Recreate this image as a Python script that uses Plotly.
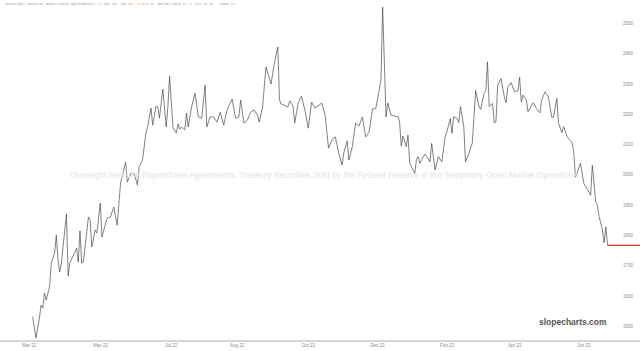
import plotly.graph_objects as go

# trading-session index (0 = first bar shown) and ON RRP values (USD bn)
sessions = [0,2,4,5,6,7,8,10,11,13,14,15,16,17,20,21,22,24,26,27,28,29,30,33,34,35,36,37,38,40,
            41,42,44,46,48,50,52,55,56,58,60,62,63,65,67,68,70,71,73,74,75,77,79,80,81,83,85,86,87,88,
            90,91,92,94,96,98,100,102,103,105,107,109,111,113,115,118,120,122,123,125,127,129,131,133,134,136,138,141,143,145,
            146,147,151,152,154,155,157,159,161,163,165,167,169,171,173,175,177,179,181,183,184,186,187,189,191,193,195,197,199,201,
            203,205,206,207,209,210,212,214,216,217,218,219,221,222,223,225,226,227,228,229,230,232,233,235,236,238,240,242,244,245,
            247,248,249,251,252,253,255,256,258,260,262,264,265,267,268,269,270,272,273,274,275,277,279,280,281,283,285,287,288,289,
            290,292,293,294,296,298,300,301,303,305,307,308,310,311,313,314,316,317,319,320,321,322,324,326,328,330,331,333,334,335,
            337,338,339,340]
values = [1532,1461,1527,1570,1560,1610,1587,1630,1709,1742,1801,1719,1679,1709,1871,1666,1709,1735,1758,1712,1815,1709,1712,1861,1851,1762,1785,1818,1808,1907,
          1795,1818,1857,1861,1894,1834,1973,2042,1976,2003,2006,1966,2026,2049,2138,2158,2220,2164,2227,2224,2187,2283,2158,2224,2326,2155,2138,2168,2151,2158,
          2148,2204,2158,2224,2270,2191,2187,2296,2158,2191,2191,2174,2207,2164,2214,2250,2187,2191,2247,2171,2181,2207,2214,2197,2174,2224,2356,2300,2369,2422,
          2247,2234,2224,2244,2227,2171,2237,2260,2214,2154,2240,2220,2230,2237,2197,2088,2115,2125,2072,2032,2072,2112,2049,2092,2171,2161,2191,2125,2141,2217,
          2220,2290,2313,2553.72,2191,2237,2197,2194,2192,2175,2095,2128,2093,2131,2040,2016,2005,2051,2060,2038,2049,2069,2060,2043,2104,2016,2060,2043,2128,2142,
          2186,2137,2192,2186,2172,2225,2159,2043,2071,2104,2278,2225,2216,2269,2274,2373,2225,2236,2172,2175,2296,2318,2256,2238,2289,2304,2274,2278,2322,2241,
          2263,2247,2208,2219,2238,2219,2205,2245,2274,2258,2190,2190,2252,2170,2139,2159,2128,2120,2106,2076,1994,2007,2038,1972,1950,1933,2032,1911,1900,1862,
          1818,1776,1828,1767.44]

tick_sessions = [-2, 40, 82, 121, 163, 204, 245, 285, 326]
tick_labels = ["Mar 22", "May 22", "Jul 22", "Aug 22", "Oct 22", "Dec 22", "Feb 23", "Apr 23", "Jun 23"]
y_ticks = [1500, 1600, 1700, 1800, 1900, 2000, 2100, 2200, 2300, 2400, 2500]

x_range = [-19.3, 359.2]
y_range = [1455, 2577]

fig = go.Figure()
fig.add_trace(go.Scatter(x=sessions, y=values, mode="lines",
                         line=dict(color="#4a4a4a", width=0.7), hoverinfo="skip"))
fig.add_trace(go.Scatter(x=[sessions[-1], x_range[1]], y=[values[-1], values[-1]], mode="lines",
                         line=dict(color="#e0302c", width=1.2), hoverinfo="skip"))

fig.update_layout(
    width=640, height=351, showlegend=False,
    margin=dict(l=0, r=0, t=0, b=11),
    paper_bgcolor="white", plot_bgcolor="white",
    xaxis=dict(range=x_range, tickvals=tick_sessions, ticktext=tick_labels,
               showgrid=False, zeroline=False, showline=True, linecolor="#d6d6d6", linewidth=2,
               ticks="", tickfont=dict(family="Liberation Sans, Arial", size=4.5, color="#8a8a8a")),
    yaxis=dict(range=y_range, tickvals=y_ticks, side="right", ticklabelposition="inside",
               ticklabelstandoff=4,
               showgrid=False, zeroline=False, showline=False, ticks="",
               tickfont=dict(family="Liberation Sans, Arial", size=4.5, color="#8a8a8a")),
)

fig.add_annotation(
    text="Overnight Reverse Repurchase Agreements: Treasury Securities Sold by the Federal Reserve in the Temporary Open Market Operations",
    xref="paper", yref="paper", x=0.506, y=0.485, showarrow=False,
    font=dict(family="Liberation Sans, Arial", size=8.4, color="#e4e4e4"))

fig.add_annotation(
    text="slopecharts.com", xref="paper", yref="paper", x=0.951, y=0.053,
    xanchor="right", yanchor="middle", showarrow=False,
    font=dict(family="Liberation Sans, Arial", size=8.5, color="#555555", weight="bold"))

fig.add_annotation(
    text=("Overnight Reverse Repurchase Agreements: 1,767.44 "
          "<span style='color:#e8906a'>-60.73 -3.32%</span> D: 06/06/2023 C: 1,711.47 H:  2553.72"),
    xref="paper", yref="paper", x=0.004, y=0.999, xanchor="left", yanchor="top", showarrow=False,
    font=dict(family="Liberation Mono, DejaVu Sans Mono", size=3.8, color="#9a9a9a"))

fig.write_html("out.html")
